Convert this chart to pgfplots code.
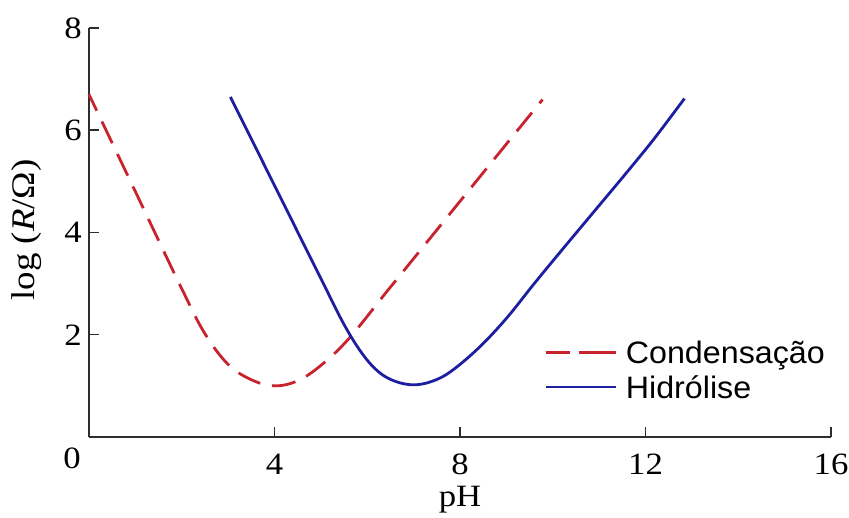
\documentclass[border=0pt]{standalone}
\usepackage{fontspec}
\setmainfont{Liberation Serif}[FakeStretch=1.12]
\newfontfamily\legendfont{Liberation Sans}[FakeStretch=1.04]
\usepackage{pgfplots}
\pgfplotsset{compat=1.18}

\definecolor{condred}{RGB}{200,35,45}
\definecolor{hidblue}{RGB}{30,30,160}
\definecolor{axisgray}{RGB}{45,45,45}

\begin{document}
\begin{tikzpicture}
\begin{axis}[
  scale only axis,
  width=742pt, height=409pt,
  xmin=0, xmax=16, ymin=0, ymax=8,
  axis x line*=bottom, axis y line*=left,
  axis line style={-, axisgray, line width=1.5pt},
  xtick={4,8,12,16}, ytick={2,4,6,8},
  tick align=inside,
  major tick length=10pt,
  tick style={axisgray, line width=1.5pt},
  /pgf/number format/assume math mode=true,
  tick label style={font=\fontsize{31}{33}\selectfont, inner sep=0pt},
  xticklabel style={anchor=north, yshift=-17pt},
  yticklabel style={anchor=east, xshift=-7pt},
  legend style={
    at={(axis cs:9.83,1.88)}, anchor=north west,
    draw=none, fill=none, inner sep=0pt,
    font=\legendfont\fontsize{31}{33}\selectfont,
    row sep=12pt,
    nodes={inner sep=0pt, text depth=0pt},
    /tikz/every odd column/.append style={column sep=8pt},
  },
  legend cell align=left,
  legend image code/.code={\draw[#1] (0pt,0pt) -- (70pt,0pt);},
  clip=false,
]
\coordinate (O) at (axis cs:0,0);

% condensation rate (dashed)
\addplot[condred, line width=2.8pt, dash pattern=on 24pt off 12pt, dash phase=6pt, smooth, tension=0.6,
  legend image code/.code={\draw[condred, line width=2.8pt, dash pattern=on 30pt off 9pt on 31pt off 0pt] (0pt,0pt) -- (70pt,0pt);}]
  coordinates {
  (0.00,6.70) (1.00,4.80) (2.00,2.90) (2.50,2.02) (3.00,1.42) (3.50,1.12)
  (4.00,1.00) (4.50,1.10) (5.00,1.40) (5.60,1.92) (6.40,2.82) (7.00,3.49)
  (8.00,4.61) (9.00,5.73) (9.78,6.60)
  };
\addlegendentry{Condensação}

% hydrolysis rate (solid)
\addplot[hidblue, line width=2.8pt, smooth, tension=0.6]
  coordinates {
  (3.05,6.65) (4.00,4.92) (5.00,3.10) (5.50,2.20) (5.90,1.62) (6.25,1.27)
  (6.60,1.09) (7.00,1.02) (7.40,1.09) (7.80,1.28) (8.40,1.74) (9.00,2.32)
  (9.60,3.00) (10.20,3.66) (10.90,4.42) (11.60,5.18) (12.20,5.85) (12.84,6.62)
  };
\addlegendentry{Hidrólise}

% axis titles and the shared origin label
\node[font=\fontsize{31}{33}\selectfont, inner sep=0pt] at ([shift={(-17pt,-21pt)}]O) {0};
\node[font=\fontsize{31}{33}\selectfont, anchor=center] at ([shift={(0pt,-63pt)}]axis cs:8,0) {pH};
\node[font=\fontsize{33}{35}\selectfont, anchor=center, rotate=90] at ([shift={(-62pt,0pt)}]axis cs:0,4.05) {log (\textit{R}/Ω)};
\end{axis}
\pgfresetboundingbox
\path[use as bounding box] ([shift={(-89pt,-81pt)}]O) rectangle ([shift={(760pt,437pt)}]O);
\end{tikzpicture}
\end{document}
